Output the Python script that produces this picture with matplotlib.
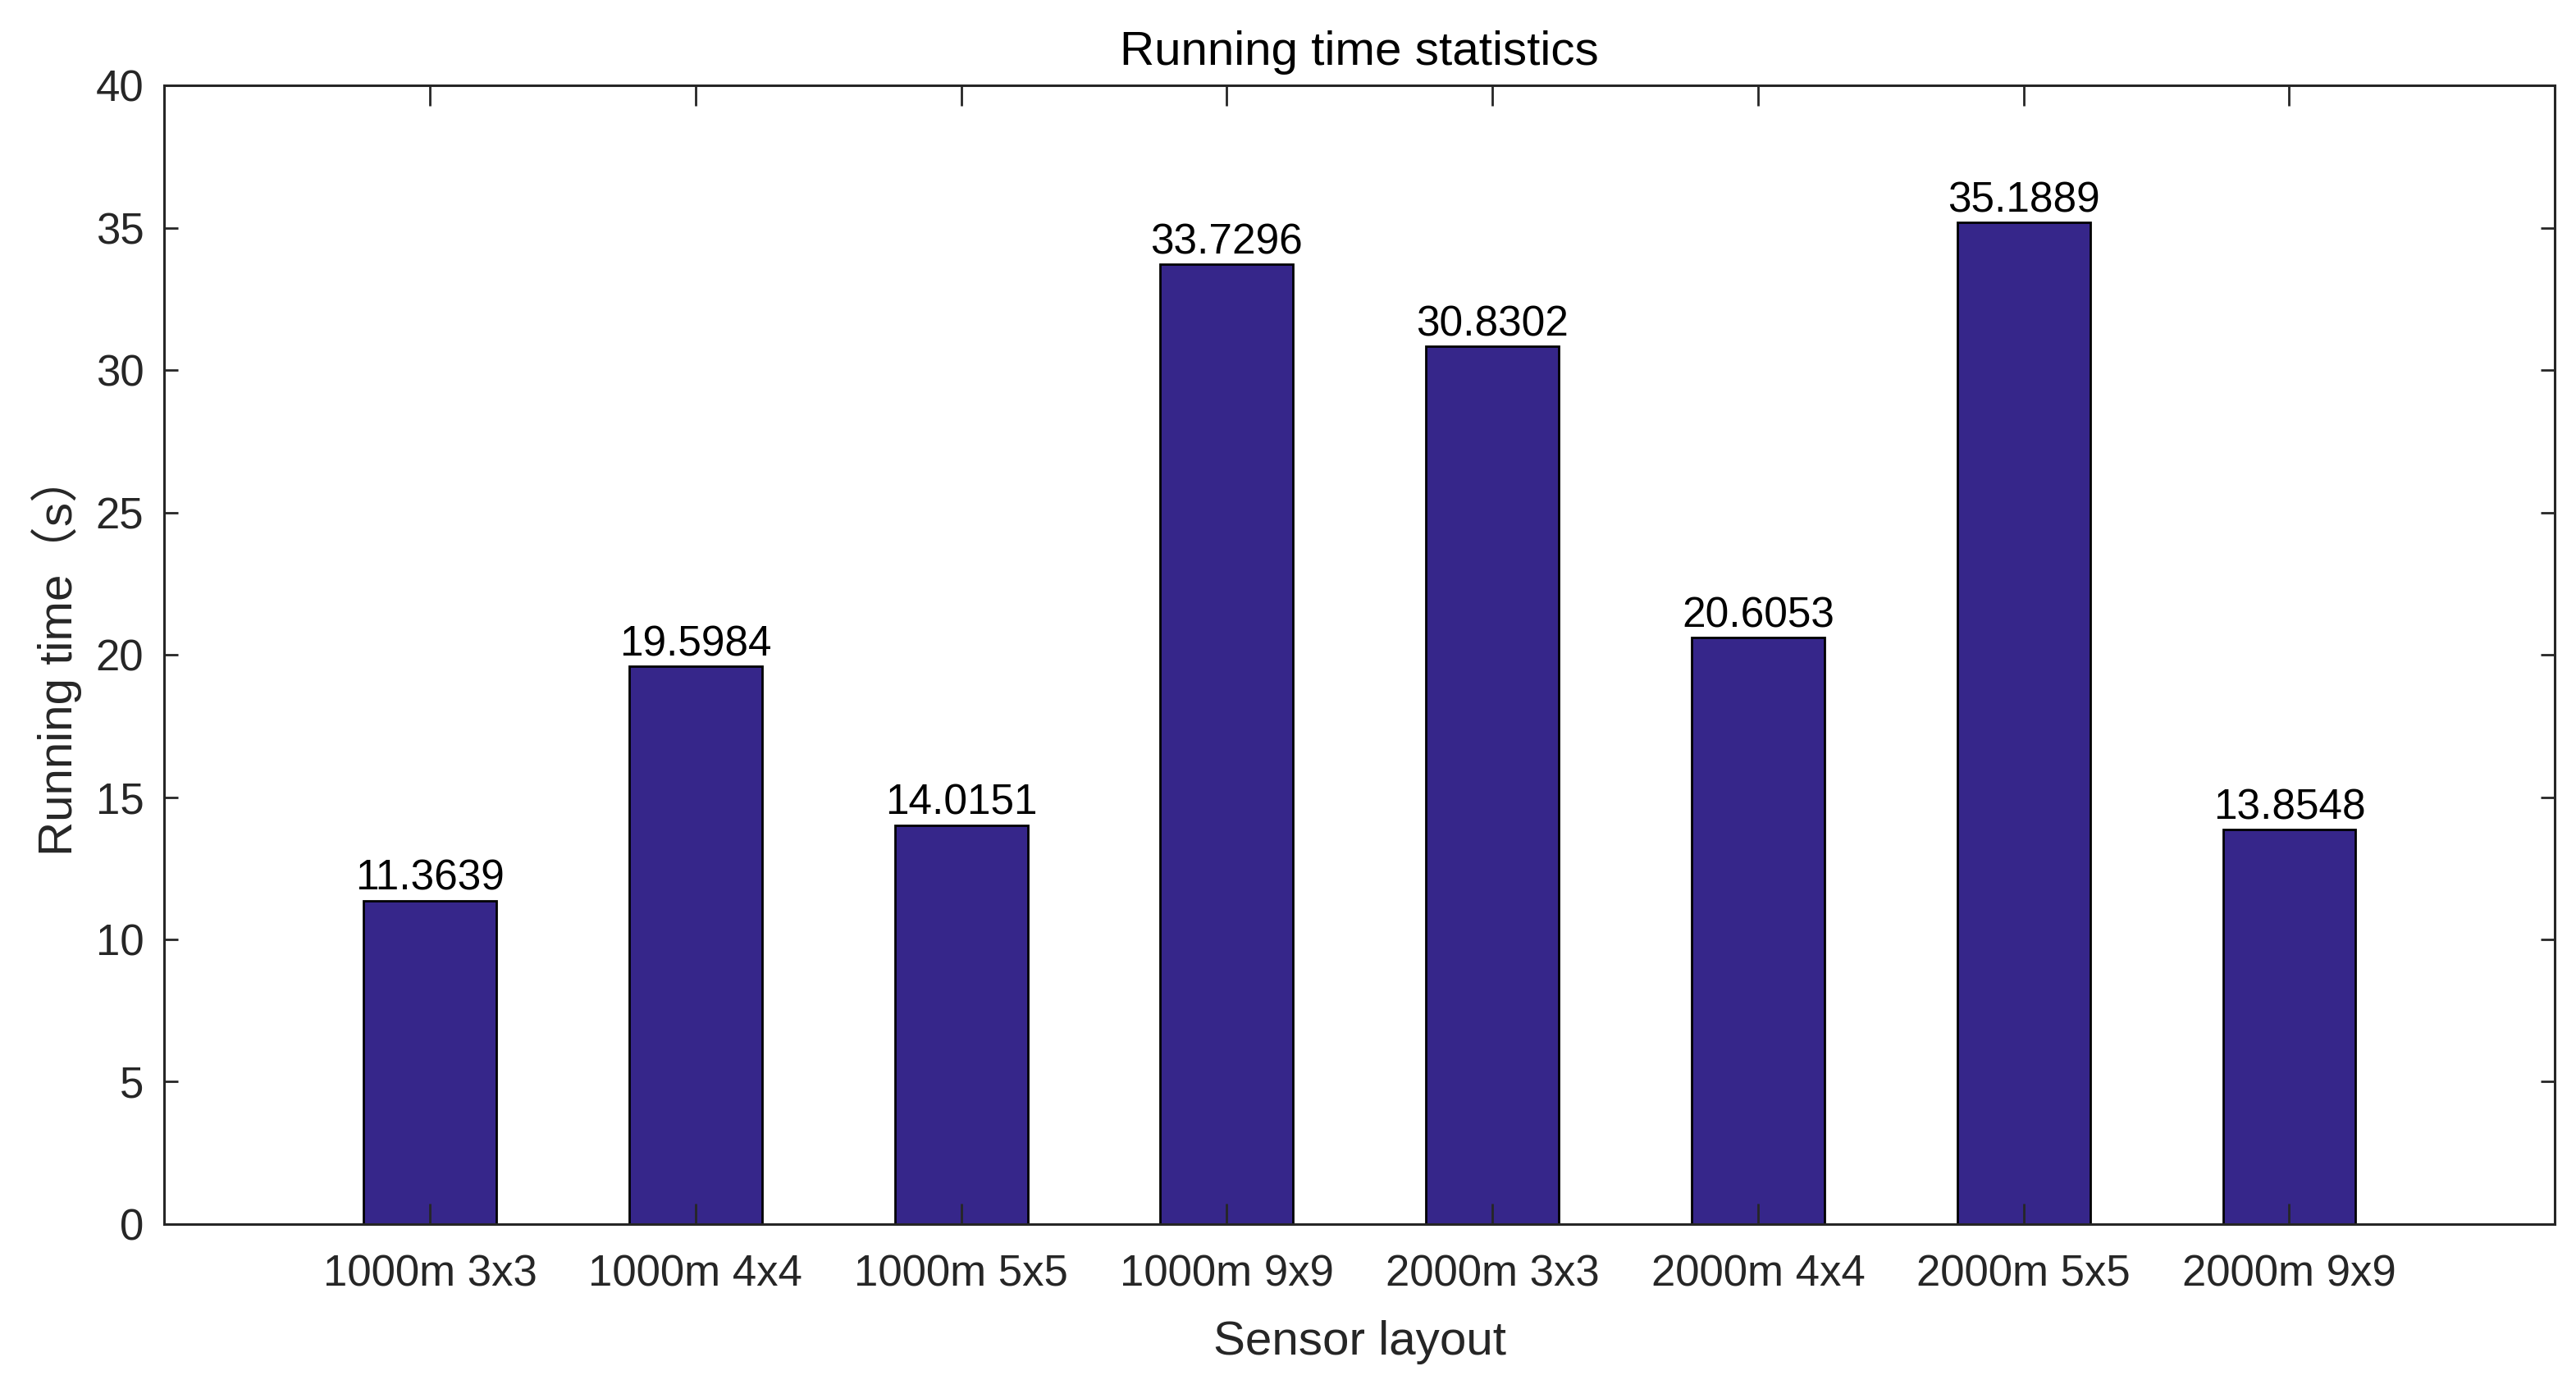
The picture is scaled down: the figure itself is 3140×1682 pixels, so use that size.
import matplotlib
matplotlib.use('Agg')
import matplotlib.pyplot as plt

# данные
layouts = ['1000m 3x3', '1000m 4x4', '1000m 5x5', '1000m 9x9',
           '2000m 3x3', '2000m 4x4', '2000m 5x5', '2000m 9x9']
run_time = [11.3639, 19.5984, 14.0151, 33.7296, 30.8302, 20.6053, 35.1889, 13.8548]
y_ticks = [0, 5, 10, 15, 20, 25, 30, 35, 40]

main_font = ['Liberation Sans', 'Noto Sans CJK SC']

fig = plt.figure(figsize=(15.7, 8.41), dpi=200)
ax = fig.add_axes([0.0638, 0.113, 0.928, 0.825])

x = list(range(1, len(layouts) + 1))
bars = ax.bar(x, run_time, width=0.5, color='#36268A', edgecolor='black', linewidth=1.0)

for xi, v in zip(x, run_time):
    ax.text(xi, v + 0.05, '%.4f' % v, ha='center', va='bottom',
            fontsize=18.5, family=main_font, color='black')

ax.set_xlim(0, 9)
ax.set_ylim(0, 40)
ax.set_xticks(x)
ax.set_xticklabels(layouts, family=main_font, fontsize=19)
ax.set_yticks(y_ticks)
ax.set_yticklabels([str(t) for t in y_ticks], family=main_font, fontsize=19)

ax.tick_params(axis='both', direction='in', top=True, right=True, color='#262626',
               labelcolor='#262626', width=1.0)
ax.tick_params(axis='x', length=9, pad=13)
ax.tick_params(axis='y', length=6, pad=9)
for s in ax.spines.values():
    s.set_linewidth(1.1)
    s.set_color('#262626')

ax.set_title('Running time statistics', fontsize=21, family=main_font, color='black', pad=9)
ax.set_xlabel('Sensor layout', fontsize=21, family=main_font, color='#262626', labelpad=11)
ax.set_ylabel('Running time（s）', fontsize=21, family=main_font, color='#262626', labelpad=6)

fig.savefig('out.png', dpi=200)
